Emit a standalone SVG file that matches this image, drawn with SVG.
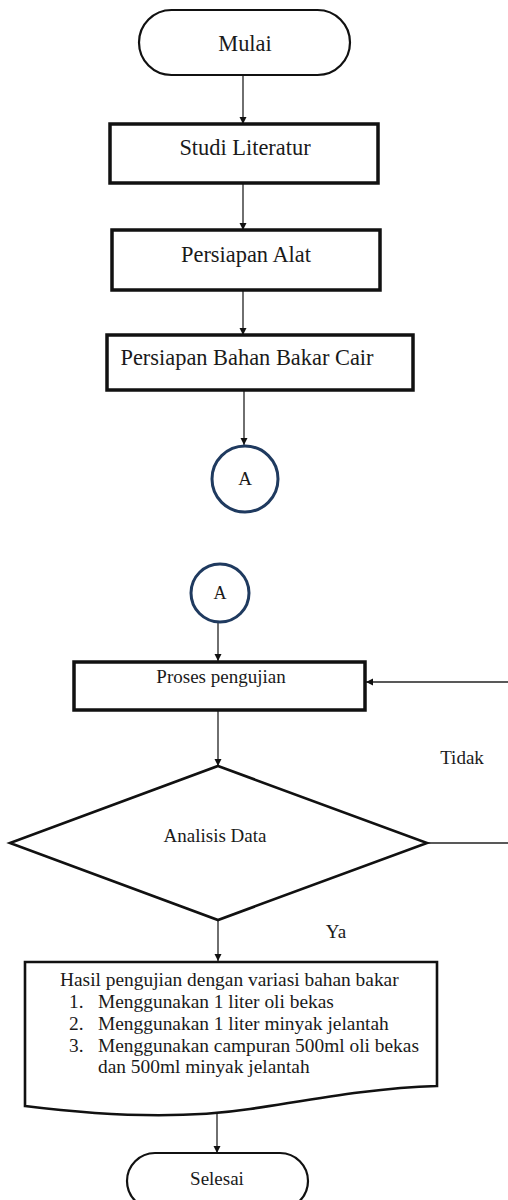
<svg xmlns="http://www.w3.org/2000/svg" width="508" height="1200" viewBox="0 0 508 1200">
<defs>
<marker id="ah" viewBox="0 0 10 10" refX="10" refY="5" markerWidth="7" markerHeight="8" markerUnits="userSpaceOnUse" orient="auto">
<path d="M0,0 L10,5 L0,10 Z" fill="#111"/>
</marker>
<style>
.big{font-size:22.4px;text-anchor:middle;}
.sm{font-size:19px;text-anchor:middle;}
.lst{font-size:19.4px;}
.box{fill:#fff;stroke:#111;stroke-width:3.5;}
.term{fill:#fff;stroke:#111;stroke-width:2.2;}
.con{fill:#fff;stroke:#1f3a5f;stroke-width:3;}
.ln{fill:none;stroke:#222;stroke-width:1.3;}
</style>
</defs>
<rect width="508" height="1200" fill="#fff"/>
<g id="connectors">
<line class="ln" x1="243" y1="75" x2="243" y2="124" marker-end="url(#ah)"/>
<line class="ln" x1="243" y1="183" x2="243" y2="230" marker-end="url(#ah)"/>
<line class="ln" x1="243" y1="290" x2="243" y2="335" marker-end="url(#ah)"/>
<line class="ln" x1="244" y1="390" x2="244" y2="445" marker-end="url(#ah)"/>
<line class="ln" x1="218" y1="622" x2="218" y2="661" marker-end="url(#ah)"/>
<line class="ln" x1="218" y1="710" x2="218" y2="766" marker-end="url(#ah)"/>
<line class="ln" x1="218" y1="920" x2="218" y2="961" marker-end="url(#ah)"/>
<line class="ln" x1="217" y1="1114" x2="217" y2="1153" marker-end="url(#ah)"/>
<line class="ln" x1="508" y1="682" x2="366" y2="682" marker-end="url(#ah)" style="stroke-width:1.6"/>
<line class="ln" x1="427" y1="843" x2="508" y2="843"/>
</g>
<g font-family="'Liberation Serif', 'Times New Roman', Times, serif" fill="#1a1a1a">
<g id="mulai">
<rect class="term" x="139" y="10" width="211" height="65" rx="32.5"/>
<text class="big" x="245" y="51">Mulai</text>
</g>
<g id="studi">
<rect class="box" x="110" y="124" width="268" height="59"/>
<text class="big" x="245" y="155">Studi Literatur</text>
</g>
<g id="alat">
<rect class="box" x="112" y="230" width="268" height="60"/>
<text class="big" x="246" y="262">Persiapan Alat</text>
</g>
<g id="bahan">
<rect class="box" x="107" y="335" width="306" height="55"/>
<text class="big" x="247" y="365">Persiapan Bahan Bakar Cair</text>
</g>
<g id="a1">
<circle class="con" cx="245" cy="479" r="33"/>
<text class="sm" x="245" y="485">A</text>
</g>
<g id="a2">
<circle class="con" cx="220" cy="593" r="29"/>
<text class="sm" x="220" y="599" style="font-size:18px">A</text>
</g>
<g id="proses">
<rect class="box" x="74" y="662" width="291" height="48"/>
<text class="sm" x="221" y="683">Proses pengujian</text>
</g>
<g id="analisis">
<polygon points="218,766 427,843 218,920 10,843" fill="#fff" stroke="#111" stroke-width="2.6"/>
<text class="sm" x="215" y="842">Analisis Data</text>
</g>
<text class="sm" x="462" y="764">Tidak</text>
<text class="sm" x="336" y="938">Ya</text>
<g id="hasil">
<path d="M25,962 H437 V1086 C370,1088 310,1100 250,1109 C190,1118 120,1118 25,1106 Z" fill="#fff" stroke="#111" stroke-width="2.6"/>
<text class="lst" x="60" y="986">Hasil pengujian dengan variasi bahan bakar</text>
<text class="lst" x="69" y="1008">1.</text>
<text class="lst" x="98" y="1008">Menggunakan 1 liter oli bekas</text>
<text class="lst" x="69" y="1030">2.</text>
<text class="lst" x="98" y="1030">Menggunakan 1 liter minyak jelantah</text>
<text class="lst" x="69" y="1052">3.</text>
<text class="lst" x="98" y="1052">Menggunakan campuran 500ml oli bekas</text>
<text class="lst" x="98" y="1073">dan 500ml minyak jelantah</text>
</g>
<g id="selesai">
<rect class="term" x="127" y="1153" width="181" height="56" rx="28"/>
<text class="sm" x="217" y="1185">Selesai</text>
</g>
</g>
</svg>
